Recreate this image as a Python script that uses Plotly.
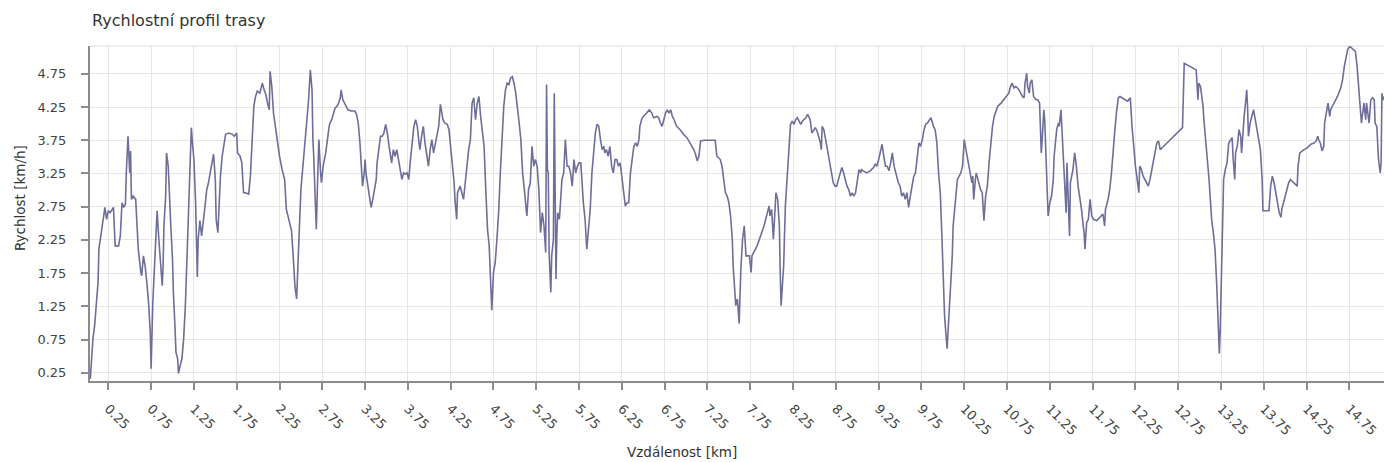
import plotly.graph_objects as go

# ---- data (distance in km, speed in km/h) ----
dist_a = [0.04,0.05,0.07,0.09,0.11,0.13,0.14,0.17,0.19,0.21,
          0.23,0.25,0.27,0.29,0.31,0.33,0.37,0.39,0.41,0.43,
          0.45,0.46,0.48,0.50,0.51,0.52,0.54,0.57,0.60,0.63,
          0.64,0.66,0.68,0.70,0.72,0.74,0.75,0.77,0.79,0.81,
          0.82,0.84,0.86,0.88,0.89,0.90,0.92,0.93,0.95,0.96,
          0.98,1.00,1.01,1.03,1.04,1.06,1.07,1.09,1.11,1.13,
          1.15,1.17,1.19,1.21,1.22,1.23,1.25,1.27,1.28,1.29,
          1.30,1.32,1.34,1.36,1.38,1.40,1.42,1.44,1.46,1.48,
          1.50,1.51,1.53,1.54,1.56,1.58,1.60,1.62,1.66,1.70,
          1.72,1.75,1.76,1.79,1.81,1.83,1.85,1.89,1.91,1.93,
          1.95,1.97,1.99,2.02,2.05,2.07,2.09,2.11,2.13,2.14,
          2.16,2.18,2.20,2.22,2.25,2.28,2.31,2.33,2.36,2.39,
          2.41,2.43,2.45,2.46,2.48,2.50,2.52,2.54,2.55,2.57,
          2.59,2.61,2.63,2.64,2.65,2.67,2.68,2.70,2.71,2.73,
          2.74,2.76,2.79,2.83]
speed_a = [0.16,0.41,0.76,0.96,1.26,1.61,2.11,2.39,2.56,2.74,
           2.56,2.69,2.66,2.71,2.74,2.16,2.16,2.31,2.81,2.74,
           2.79,3.26,3.81,3.26,3.59,2.86,2.91,2.86,2.11,1.76,
           1.71,2.01,1.86,1.61,1.31,0.86,0.31,1.31,1.86,2.41,
           2.69,2.26,1.96,1.56,1.86,2.46,2.91,3.56,3.36,2.96,
           2.46,1.96,1.46,0.91,0.56,0.46,0.24,0.36,0.46,0.76,
           1.26,2.01,2.81,3.76,3.94,3.76,3.46,2.81,1.96,1.69,
           2.26,2.54,2.31,2.51,2.76,3.01,3.11,3.26,3.41,3.54,
           3.16,2.56,2.36,2.71,3.21,3.51,3.71,3.84,3.86,3.84,
           3.81,3.86,3.56,3.51,3.41,2.96,2.96,2.94,3.21,3.76,
           4.26,4.41,4.49,4.46,4.61,4.51,4.44,4.31,4.21,4.79,
           4.56,4.16,3.96,3.76,3.51,3.31,3.16,2.71,2.54,2.39,
           2.01,1.56,1.36,1.76,2.51,3.01,3.31,3.61,3.81,4.01,
           4.36,4.81,4.51,3.76,3.51,2.76,2.41,3.36,3.76,3.26,
           3.11,3.36,3.56,3.96]

dist_b = [2.84,2.86,2.88,2.90,2.92,2.94,2.96,2.97,2.99,3.02,
          3.05,3.09,3.13,3.15,3.17,3.19,3.21,3.22,3.24,3.25,
          3.26,3.28,3.30,3.32,3.34,3.36,3.38,3.39,3.41,3.43,
          3.45,3.47,3.49,3.51,3.53,3.55,3.56,3.58,3.60,3.62,
          3.64,3.66,3.68,3.70,3.72,3.74,3.76,3.78,3.80,3.82,
          3.84,3.86,3.88,3.89,3.91,3.93,3.95,3.97,3.99,4.01,
          4.03,4.05,4.07,4.09,4.11,4.13,4.14,4.16,4.18,4.21,
          4.23,4.25,4.27,4.29,4.30,4.32,4.33,4.36,4.38,4.40,
          4.42,4.44,4.46,4.48,4.50,4.52,4.54,4.56,4.58,4.60,
          4.62,4.64,4.66,4.68,4.70,4.71,4.73,4.75,4.77,4.79,
          4.81,4.83,4.85,4.87,4.89,4.91,4.93,4.95,4.97,4.99,
          5.01,5.03,5.05,5.07,5.09,5.11,5.13,5.14,5.16,5.18,
          5.20,5.22,5.24,5.26,5.28,5.29,5.30,5.32,5.34,5.36,
          5.37,5.38,5.39,5.40,5.42,5.43,5.45,5.46,5.47,5.48,
          5.49,5.50,5.52,5.54,5.55,5.57,5.59,5.61,5.63]
speed_b = [4.01,4.06,4.16,4.24,4.26,4.31,4.39,4.51,4.36,4.29,
           4.21,4.19,4.19,4.14,4.01,3.71,3.36,3.06,3.26,3.46,
           3.26,3.06,2.91,2.74,2.86,3.01,3.16,3.41,3.66,3.81,
           3.81,3.86,3.99,3.86,3.66,3.51,3.41,3.61,3.51,3.61,
           3.46,3.31,3.16,3.26,3.24,3.26,3.16,3.46,3.71,3.96,
           4.06,3.96,3.71,3.61,3.81,3.96,3.71,3.51,3.36,3.61,
           3.76,3.56,3.71,3.81,3.96,4.29,4.19,4.06,4.01,3.99,
           3.91,3.66,3.31,3.11,2.86,2.56,2.96,3.06,2.96,2.86,
           3.11,3.41,3.61,3.76,4.31,4.39,4.06,4.31,4.41,4.11,
           3.86,3.66,3.01,2.41,2.16,1.81,1.19,1.76,1.91,2.26,
           2.66,3.26,3.86,4.26,4.51,4.61,4.59,4.69,4.71,4.61,
           4.46,4.26,4.01,3.76,3.26,3.01,2.76,2.61,3.01,3.11,
           3.66,3.36,3.46,3.36,3.01,2.66,2.36,2.66,2.46,2.06,
           4.59,3.31,3.26,2.06,1.46,2.01,2.26,4.46,3.01,1.66,
           2.31,2.66,2.56,2.96,3.16,3.26,3.76,3.36,3.36]

dist_c = [5.65,5.67,5.69,5.71,5.73,5.75,5.77,5.78,5.80,5.82,
          5.84,5.86,5.88,5.90,5.92,5.94,5.96,5.98,6.00,6.02,
          6.04,6.05,6.07,6.09,6.11,6.13,6.15,6.17,6.19,6.21,
          6.23,6.25,6.27,6.29,6.31,6.33,6.35,6.37,6.39,6.41,
          6.43,6.45,6.46,6.48,6.50,6.54,6.57,6.60,6.62,6.66,
          6.68,6.70,6.72,6.74,6.76,6.78,6.80,6.82,6.84,6.86,
          6.89,6.93,6.97,7.01,7.05,7.09,7.11,7.13,7.15,7.17,
          7.21,7.27,7.34,7.36,7.40,7.42,7.44,7.46,7.48,7.50,
          7.52,7.54,7.55,7.57,7.58,7.60,7.62,7.64,7.66,7.68,
          7.69,7.70,7.74,7.76,7.77,7.79,7.83,7.87,7.91,7.95,
          7.97,7.98,8.00,8.02,8.04,8.05,8.07,8.09,8.10,8.11,
          8.13,8.14,8.16,8.18,8.19,8.21,8.22,8.24,8.26,8.28,
          8.30,8.32,8.34,8.36,8.38,8.40,8.42]
speed_c = [3.26,3.06,3.46,3.26,3.36,3.41,3.41,3.16,2.81,2.56,
           2.11,2.41,2.71,3.26,3.61,3.86,3.99,3.96,3.76,3.61,
           3.66,3.56,3.61,3.51,3.66,3.36,3.26,3.46,3.46,3.36,
           3.41,3.16,2.96,2.76,2.81,2.81,3.26,3.51,3.66,3.71,
           3.66,3.76,3.96,4.06,4.11,4.16,4.21,4.16,4.09,4.11,
           4.09,4.01,3.96,4.06,4.16,4.21,4.16,4.21,4.11,4.06,
           3.96,3.91,3.84,3.79,3.71,3.61,3.54,3.44,3.51,3.74,
           3.75,3.75,3.75,3.51,3.46,3.36,3.16,2.96,2.91,2.81,
           2.61,2.26,1.86,1.46,1.26,1.36,0.99,1.81,2.26,2.46,
           2.26,2.01,2.01,1.76,2.01,2.06,2.16,2.31,2.46,2.66,
           2.76,2.61,2.71,2.26,2.81,2.96,2.86,2.46,1.76,1.26,
           1.66,1.86,2.76,3.16,3.51,3.84,3.99,4.04,3.99,4.06,
           4.09,4.04,3.99,4.04,4.06,4.09,4.14]

dist_d = [8.45,8.47,8.49,8.51,8.53,8.55,8.57,8.58,8.59,8.61,
          8.63,8.64,8.66,8.68,8.70,8.72,8.74,8.76,8.78,8.80,
          8.82,8.84,8.86,8.88,8.90,8.92,8.94,8.96,8.98,9.00,
          9.02,9.04,9.05,9.07,9.11,9.15,9.19,9.21,9.23,9.25,
          9.27,9.29,9.31,9.33,9.35,9.37,9.39,9.41,9.43,9.45,
          9.46,9.48,9.50,9.52,9.54,9.56,9.58,9.60,9.62,9.64,
          9.66,9.68,9.70,9.72,9.74,9.76,9.78,9.80,9.82,9.84,
          9.86,9.88,9.89,9.91,9.93,9.95,9.97,9.99,10.00,10.01,
          10.02,10.04,10.05,10.06,10.07,10.09,10.11,10.12,10.14,10.15,
          10.17,10.19,10.21,10.23,10.24,10.25,10.27,10.29,10.30,10.32,
          10.34,10.35,10.36,10.38,10.39,10.40,10.42,10.44,10.46,10.47,
          10.48,10.50,10.52,10.54,10.56,10.58,10.60,10.62,10.64,10.68,
          10.71,10.75,10.77,10.79,10.81,10.83,10.85,10.87,10.89,10.91,
          10.93,10.95,10.96,10.98,10.99,11.01,11.02,11.04,11.05,11.06,
          11.09,11.11,11.13,11.14,11.15,11.16,11.18,11.19,11.20,11.21,
          11.22,11.23,11.25]
speed_d = [4.06,3.86,3.91,3.94,3.89,3.81,3.71,3.61,3.96,3.91,
           3.76,3.66,3.56,3.36,3.21,3.11,3.06,3.06,3.16,3.26,
           3.34,3.26,3.16,3.06,3.01,2.91,2.96,2.91,2.96,3.16,
           3.31,3.26,3.31,3.29,3.26,3.29,3.34,3.39,3.36,3.46,
           3.56,3.69,3.51,3.36,3.36,3.29,3.41,3.56,3.36,3.26,
           3.21,3.11,3.06,2.91,2.96,2.86,2.96,2.74,2.91,3.06,
           3.21,3.26,3.46,3.71,3.66,3.76,3.91,3.99,4.01,4.06,
           4.09,4.01,3.96,3.91,3.71,3.26,2.96,2.26,1.76,1.51,
           1.11,0.76,0.61,0.86,1.11,1.46,2.01,2.46,2.76,2.96,
           3.16,3.21,3.26,3.36,3.56,3.76,3.61,3.46,3.36,3.26,
           3.11,3.21,2.86,3.16,3.26,3.21,3.11,3.01,2.96,2.76,
           2.54,2.91,3.06,3.41,3.76,3.96,4.11,4.19,4.26,4.31,
           4.36,4.41,4.46,4.56,4.61,4.54,4.56,4.54,4.51,4.46,
           4.41,4.39,4.61,4.76,4.56,4.46,4.61,4.66,4.51,4.41,
           4.36,4.36,4.31,3.91,3.56,3.76,4.21,4.06,3.56,3.26,
           2.96,2.61,2.81]

dist_e = [11.27,11.29,11.30,11.32,11.33,11.35,11.36,11.38,11.39,11.40,
          11.41,11.43,11.44,11.45,11.46,11.48,11.49,11.51,11.52,11.54,
          11.56,11.58,11.60,11.62,11.64,11.65,11.66,11.68,11.70,11.72,
          11.74,11.76,11.80,11.84,11.87,11.89,11.90,11.93,11.95,11.97,
          11.99,12.01,12.03,12.05,12.07,12.09,12.13,12.16,12.19,12.21,
          12.23,12.25,12.27,12.29,12.30,12.32,12.34,12.38,12.40,12.42,
          12.44,12.46,12.48,12.50,12.52,12.54,12.58,12.62,12.66,12.70,
          12.73,12.77,12.80,12.82,12.85,12.89,12.93,12.96,12.98,12.99,
          13.01,13.02,13.04,13.05,13.07,13.09,13.11,13.13,13.14,13.16,
          13.18,13.20,13.22,13.23,13.24,13.25,13.27,13.28,13.30,13.32,
          13.34,13.36,13.38,13.39,13.41,13.42,13.44,13.46,13.48,13.49,
          13.50,13.52,13.54,13.55,13.56,13.57,13.59,13.60,13.62,13.63,
          13.65,13.67,13.69,13.71,13.73,13.74,13.81,13.83,13.85,13.87,
          13.89,13.91,13.93,13.95,13.96,13.98,14.00,14.02,14.04,14.06,
          14.10,14.14,14.15,14.17,14.22,14.26,14.30,14.34,14.36,14.38,
          14.39,14.41,14.43,14.45,14.46,14.48,14.50,14.52,14.53,14.57,
          14.61,14.65,14.67,14.69,14.71,14.73,14.75,14.77,14.80,14.82,
          14.84,14.86,14.88,14.89,14.91,14.92,14.94,14.95,14.97,14.98,
          15.00,15.02,15.04,15.05,15.07,15.08,15.09,15.11,15.12,15.13,
          15.14,15.16]
speed_e = [2.91,3.16,3.51,3.86,3.91,4.01,3.96,4.21,3.96,3.66,
           3.36,3.01,2.66,3.41,2.96,2.31,3.11,3.26,3.31,3.56,
           3.36,3.06,2.91,2.71,2.46,2.36,2.11,2.51,2.56,2.86,
           2.61,2.56,2.54,2.59,2.64,2.46,2.71,2.86,3.01,3.26,
           3.66,3.91,4.19,4.39,4.41,4.39,4.36,4.34,4.39,3.96,
           3.61,3.36,3.16,2.96,3.36,3.31,3.21,3.11,3.06,3.16,
           3.31,3.46,3.61,3.71,3.74,3.61,3.66,3.71,3.76,3.81,
           3.86,3.91,3.94,4.91,4.89,4.86,4.84,4.81,4.36,4.61,
           4.56,4.46,4.26,4.06,3.76,3.51,3.16,2.76,2.56,2.36,
           2.11,1.56,0.81,0.54,0.86,1.46,2.76,3.16,3.31,3.41,
           3.71,3.76,3.79,3.51,3.16,3.56,3.66,3.91,3.81,3.56,
           3.76,4.11,4.36,4.51,4.26,3.81,4.01,4.06,4.16,4.21,
           4.06,3.91,3.76,3.61,3.16,2.69,2.69,3.06,3.21,3.11,
           2.96,2.81,2.66,2.59,2.71,2.81,2.91,3.01,3.11,3.16,
           3.11,3.06,3.36,3.56,3.61,3.64,3.69,3.71,3.74,3.81,
           3.76,3.71,3.59,3.66,4.01,4.16,4.31,4.11,4.21,4.31,
           4.41,4.54,4.66,4.86,5.01,5.12,5.16,5.15,5.11,5.09,
           4.86,4.56,4.26,4.01,4.21,4.31,4.06,4.31,4.11,4.01,
           4.36,4.39,4.36,4.01,3.96,3.76,3.46,3.26,3.41,4.46,
           4.36,4.41]

distance_km = dist_a + dist_b + dist_c + dist_d + dist_e
speed_kmh = speed_a + speed_b + speed_c + speed_d + speed_e

x_ticks = [0.25 + 0.5 * i for i in range(30)]
x_labels = [f"{v:.2f}" for v in x_ticks]
y_ticks = [0.25 + 0.5 * i for i in range(10)]
y_labels = [f"{v:.2f}" for v in y_ticks]

X_RANGE = [0.036, 15.154]
Y_RANGE = [0.125, 5.17]

FONT = "DejaVu Sans"
TXT = "#444444"
AXIS = "#8c8c8c"
GRID = "#e6e6e6"

fig = go.Figure()
fig.add_trace(go.Scatter(
    x=distance_km, y=speed_kmh, mode="lines",
    line=dict(color="#6e6e9a", width=1.6),
    showlegend=False, hoverinfo="skip",
))

fig.update_layout(
    width=1384, height=462,
    margin=dict(l=90, r=0, t=46, b=81),
    paper_bgcolor="white", plot_bgcolor="white",
    font=dict(family=FONT, size=13, color=TXT),
    showlegend=False,
    xaxis=dict(
        range=X_RANGE, tickmode="array", tickvals=x_ticks, ticktext=x_labels,
        tickangle=45, ticks="outside", ticklen=7, tickwidth=2, tickcolor=AXIS,
        showline=True, linecolor=AXIS, linewidth=2,
        showgrid=True, gridcolor=GRID, gridwidth=1, zeroline=False,
        tickfont=dict(family=FONT, size=13, color=TXT),
        ticklabelstandoff=6,
    ),
    yaxis=dict(
        range=Y_RANGE, tickmode="array", tickvals=y_ticks, ticktext=y_labels,
        ticks="outside", ticklen=7, tickwidth=2, tickcolor=AXIS,
        showline=True, linecolor=AXIS, linewidth=2,
        showgrid=True, gridcolor=GRID, gridwidth=1, zeroline=False,
        tickfont=dict(family=FONT, size=13, color=TXT),
        ticklabelstandoff=12,
    ),
    xaxis2=dict(
        overlaying="x", anchor="y", side="bottom", range=X_RANGE,
        tickmode="array", tickvals=x_ticks, ticks="inside", ticklen=6,
        tickwidth=2, tickcolor=AXIS, showticklabels=False,
        showgrid=False, showline=False, zeroline=False,
    ),
    yaxis2=dict(
        overlaying="y", anchor="x", side="left", range=Y_RANGE,
        tickmode="array", tickvals=y_ticks, ticks="inside", ticklen=6,
        tickwidth=2, tickcolor=AXIS, showticklabels=False,
        showgrid=False, showline=False, zeroline=False,
    ),
    shapes=[dict(type="line", xref="paper", yref="paper", x0=0, x1=1, y0=1, y1=1,
                 line=dict(color="#dddddd", width=1), layer="below")],
    annotations=[
        dict(text="Rychlostní profil trasy", xref="paper", yref="paper",
             x=0, y=1.0776, xanchor="left", yanchor="middle", showarrow=False,
             font=dict(family=FONT, size=16, color="#333333")),
        dict(text="Vzdálenost [km]", xref="paper", yref="paper",
             x=0.4575, y=-0.212, xanchor="center", yanchor="middle", showarrow=False,
             font=dict(family=FONT, size=13.5, color="#333333")),
        dict(text="Rychlost [km/h]", xref="paper", yref="paper", textangle=-90,
             x=-0.0541, y=0.546, xanchor="center", yanchor="middle", showarrow=False,
             font=dict(family=FONT, size=13.5, color="#333333")),
    ],
)

fig.write_html(
    "out.html",
    config={"displayModeBar": False},
    post_script="document.body.style.margin='0';document.body.style.overflow='hidden';",
)
